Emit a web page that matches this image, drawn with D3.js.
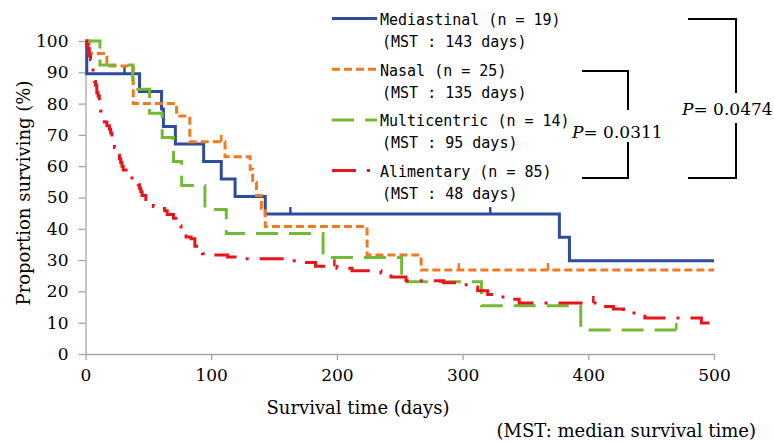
<!DOCTYPE html>
<html>
<head>
<meta charset="utf-8">
<script src="https://cdn.jsdelivr.net/npm/d3@7"></script>
<style>
  body{margin:0;background:#fff;}
  svg{display:block;}
  .tick text{font-family:"DejaVu Serif",serif;font-size:17px;fill:#000;}
  .legend text{font-family:"DejaVu Sans Mono",monospace;font-size:15px;fill:#000;}
</style>
</head>
<body>
<svg id="chart" width="774" height="442"></svg>
<script>
// 各群の生存曲線 [日数, 生存率(%)]
var mediastinal = [[0,100],[1,89.5],[43,83.9],[60.5,78.3],[62,72.7],[71.5,67.1],[94,61.5],[108,55.9],[119,50.3],[143,44.7],[377,37.3],[385,29.8],[500,29.8]];
var nasal = [[0,100],[3,96],[17,92],[38,80],[72.5,76],[83,67.8],[111,63],[131,59],[133,54.9],[136,50.6],[140,46.5],[143,40.7],[224,31.6],[267,26.8],[500,26.8]];
var multicentric = [[0,100],[11.5,92.3],[37.5,84.6],[51,76.9],[61,69.2],[70,61.5],[76.5,53.8],[95,46.2],[112,38.5],[189,30.8],[251.5,23.1],[315,15.4],[394,7.7],[470,7.7]];
var alimentary = [[0,100],[1,98.8],[2,97.6],[3,95.3],[4,94.1],[5,91.8],[6,89.4],[7,87.1],[8,85.9],[9,83.5],[10,82.4],[11,80],[12,77.6],[14,75.3],[15,74.1],[17,72.9],[19,71.8],[20,70.6],[21,69.4],[23,66],[26,63.5],[27,62.4],[28,61.2],[29,60],[30,58.8],[34,57.6],[37,55.3],[42,54.1],[43,52.9],[44,51.8],[45,50.6],[48,49.4],[50,48.2],[54,47.1],[58,46.5],[63,45.8],[65,44.6],[70,43.4],[74,41],[76,39.8],[78,38.6],[80,37.4],[84,36.8],[87,34.4],[90,33.2],[93,32],[100,31.6],[113,31],[125,30.4],[166,29.8],[173,29.2],[183,28],[200,27.4],[212,26.6],[235,25.9],[243,24.6],[255,23.4],[285,22.8],[300,22.1],[306,21.4],[312,20.2],[320,19],[326,18.2],[334,17.5],[345,16.3],[410,15.2],[420,14.4],[428,13.1],[445,11.5],[490,9.9],[500,9.9]];

// 打ち切り
var mediastinalCensor = [[31,89.5],[163,44.7],[322,44.7]];
var nasalCensor = [[108,67.8],[297,26.8],[368,26.8]];
var multicentricCensor = [[470,7.7]];
var alimentaryCensor = [[198,28],[404,16.3]];

var groupNames = ["Mediastinal (n = 19)","Nasal (n = 25)","Multicentric (n = 14)","Alimentary (n = 85)"];
var mstLabels = ["(MST : 143 days)","(MST : 135 days)","(MST : 95 days)","(MST : 48 days)"];
var xTicks = [0,100,200,300,400,500];
var yTicks = [0,10,20,30,40,50,60,70,80,90,100];
var pValues = ["0.0311","0.0474"];

var series = [
    {data:mediastinal,censor:mediastinalCensor,color:"#2f4c9c",dash:null},
    {data:nasal,censor:nasalCensor,color:"#f07a22",dash:"8,4"},
    {data:multicentric,censor:multicentricCensor,color:"#74b934",dash:"22,11"},
    {data:alimentary,censor:alimentaryCensor,color:"#e8141c",dash:"24,11,3,11"}
];

var svg = d3.select("#chart");
var x = d3.scaleLinear().domain([0,500]).range([85.5,714]);
var y = d3.scaleLinear().domain([0,100]).range([354,41]);

// 軸
svg.append("g")
    .attr("transform","translate("+x(0)+",0)")
    .call(d3.axisLeft(y).tickValues(yTicks).tickSize(7).tickSizeOuter(0).tickPadding(10));
svg.append("g")
    .attr("transform","translate(0,"+y(0)+")")
    .call(d3.axisBottom(x).tickValues(xTicks).tickSize(6).tickSizeOuter(0).tickPadding(9));
svg.selectAll(".domain, .tick line").attr("stroke","#a6a6a6").attr("stroke-width",1.3);

svg.append("text")
    .attr("x",358).attr("y",414)
    .attr("text-anchor","middle")
    .style("font-family","DejaVu Serif").style("font-size","18px")
    .text("Survival time (days)");
svg.append("text")
    .attr("transform","translate(30,193) rotate(-90)")
    .attr("text-anchor","middle")
    .style("font-family","DejaVu Serif").style("font-size","18px")
    .text("Proportion surviving (%)");
svg.append("text")
    .attr("x",756).attr("y",437)
    .attr("text-anchor","end")
    .style("font-family","DejaVu Serif").style("font-size","18px")
    .text("(MST: median survival time)");

// 曲線
var line = d3.line()
    .x(function(d){return x(d[0]);})
    .y(function(d){return y(d[1]);})
    .curve(d3.curveStepAfter);

series.forEach(function(s){
    var g = svg.append("g");
    g.append("path")
        .attr("d",line(s.data))
        .attr("fill","none")
        .attr("stroke",s.color)
        .attr("stroke-width",3)
        .attr("stroke-dasharray",s.dash);
    g.selectAll("line.censor")
        .data(s.censor)
        .enter().append("line")
        .classed("censor",true)
        .attr("x1",function(d){return x(d[0]);})
        .attr("x2",function(d){return x(d[0]);})
        .attr("y1",function(d){return y(d[1]);})
        .attr("y2",function(d){return y(d[1])-7;})
        .attr("stroke",s.color)
        .attr("stroke-width",2.5);
});

// 凡例
var legend = svg.append("g").classed("legend",true);
series.forEach(function(s,i){
    var base = 25+i*50.7;
    legend.append("line")
        .attr("x1",332).attr("x2",377)
        .attr("y1",base-6.5).attr("y2",base-6.5)
        .attr("stroke",s.color)
        .attr("stroke-width",3)
        .attr("stroke-dasharray",s.dash);
    legend.append("text").attr("x",380).attr("y",base).text(groupNames[i]);
    legend.append("text").attr("x",382).attr("y",base+22).text(mstLabels[i]);
});

// P値の括弧
var brackets = [
    {top:71,bottom:178,left:582,right:628,gapTop:110,gapBottom:142,tx:572,ty:138},
    {top:19,bottom:178,left:688,right:736,gapTop:93,gapBottom:123,tx:682,ty:115}
];
brackets.forEach(function(b,i){
    svg.append("path")
        .attr("d","M"+b.left+","+b.top+"H"+b.right+"V"+b.gapTop+"M"+b.right+","+b.gapBottom+"V"+b.bottom+"H"+b.left)
        .attr("fill","none")
        .attr("stroke","#000")
        .attr("stroke-width",2);
    var t = svg.append("text")
        .attr("x",b.tx).attr("y",b.ty)
        .style("font-family","DejaVu Serif").style("font-size","17px");
    t.append("tspan").style("font-style","italic").text("P");
    t.append("tspan").text("= "+pValues[i]);
});
</script>
</body>
</html>
